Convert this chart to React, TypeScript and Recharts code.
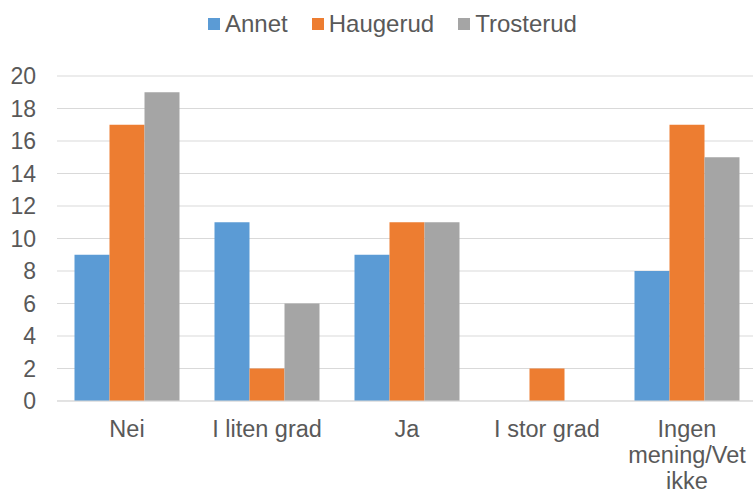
import React from "react";
import { BarChart, Bar, XAxis, YAxis, CartesianGrid, Legend } from "recharts";

const categories = ["Nei", "I liten grad", "Ja", "I stor grad", "Ingen mening/Vet ikke"];
const annet = [9, 11, 9, 0, 8];
const haugerud = [17, 2, 11, 2, 17];
const trosterud = [19, 6, 11, 0, 15];
const yTicks = [0, 2, 4, 6, 8, 10, 12, 14, 16, 18, 20];

const seriesNames = ["Annet", "Haugerud", "Trosterud"];
const seriesColors = ["#5B9BD5", "#ED7D31", "#A5A5A5"];

const data = categories.map((c, i) => ({
  name: c,
  Annet: annet[i],
  Haugerud: haugerud[i],
  Trosterud: trosterud[i],
}));

const FONT = "'Liberation Sans', Arial, sans-serif";
const TEXT = "#595959";

function wrap(label: string, maxChars: number): string[] {
  const words = label.split(" ");
  const lines: string[] = [];
  let cur = "";
  for (const w of words) {
    const cand = cur ? cur + " " + w : w;
    if (cand.length > maxChars && cur) {
      lines.push(cur);
      cur = w;
    } else {
      cur = cand;
    }
  }
  if (cur) lines.push(cur);
  return lines;
}

const CategoryTick = (props: any) => {
  const { x, y, payload } = props;
  const lines = wrap(String(payload.value), 12);
  return (
    <text x={x} y={y + 36} textAnchor="middle" fill={TEXT} fontSize={23.5} fontFamily={FONT}>
      {lines.map((l, i) => (
        <tspan key={i} x={x} dy={i === 0 ? 0 : 26}>
          {l}
        </tspan>
      ))}
    </text>
  );
};

const LegendContent = () => (
  <div style={{ display: "flex", justifyContent: "center", alignItems: "center", fontFamily: FONT }}>
    {seriesNames.map((n, i) => (
      <div key={n} style={{ display: "flex", alignItems: "center", marginRight: i < seriesNames.length - 1 ? 24 : 0 }}>
        <div style={{ width: 12, height: 12, background: seriesColors[i], marginRight: 5 }} />
        <span style={{ fontSize: 24, color: TEXT, lineHeight: "26px" }}>{n}</span>
      </div>
    ))}
  </div>
);

export default function App() {
  return (
    <div style={{ position: "absolute", left: 0, top: 0, width: 753, height: 493, overflow: "hidden", background: "#fff" }}>
      <BarChart
        width={757}
        height={493}
        data={data}
        margin={{ top: 76, right: 0, bottom: 2, left: 0 }}
        barCategoryGap="12.5%"
        barGap={0}
      >
        <CartesianGrid vertical={false} stroke="#D9D9D9" strokeWidth={1} />
        <XAxis
          dataKey="name"
          axisLine={{ stroke: "#D9D9D9" }}
          tickLine={false}
          tickSize={0}
          tickMargin={0}
          height={90}
          interval={0}
          tick={<CategoryTick />}
        />
        <YAxis
          domain={[0, 20]}
          ticks={yTicks}
          width={57}
          axisLine={false}
          tickLine={false}
          tickSize={0}
          tickMargin={21}
          tick={{ fill: TEXT, fontSize: 23, fontFamily: FONT }}
          interval={0}
        />
        <Legend
          verticalAlign="middle"
          align="center"
          content={<LegendContent />}
          wrapperStyle={{ top: 11, left: 16, width: 753 }}
        />
        {seriesNames.map((n, i) => (
          <Bar key={n} dataKey={n} fill={seriesColors[i]} isAnimationActive={false} />
        ))}
      </BarChart>
    </div>
  );
}
